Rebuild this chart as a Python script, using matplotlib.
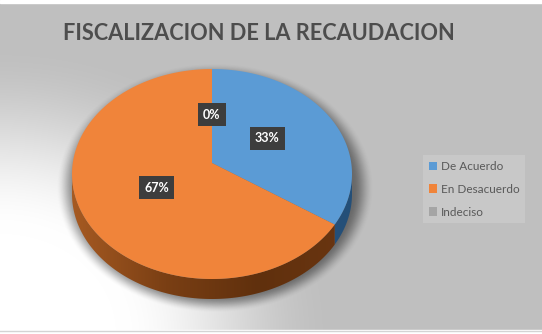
import numpy as np
import matplotlib.pyplot as plt
from matplotlib.patches import Polygon, Patch, Rectangle
from matplotlib.colors import LinearSegmentedColormap

plt.rcParams['font.family'] = ['Lato', 'DejaVu Sans']

title = 'FISCALIZACION DE LA RECAUDACION'
categories = ['De Acuerdo', 'En Desacuerdo', 'Indeciso']
values = [33, 67, 0]
top_colors = ['#5b9bd5', '#f0843a', '#a5a5a5']
side_colors = [['#2c5f8e', '#244f78'],
               ['#a65a22', '#7a3f14', '#60300d', '#6b3611'],
               ['#707070', '#5a5a5a']]

W, H = 542, 334
fig = plt.figure(figsize=(W / 100, H / 100), dpi=100)
fig.patch.set_facecolor('white')
ax = fig.add_axes([0, 0, 1, 1])
ax.axis('off')

# background: white in the lower left, grey elsewhere
yy, xx = np.mgrid[0:H, 0:W] + 0.5
r = np.hypot(xx * 0.95, (H - yy) * 1.1)
t = np.clip((r - 110) / 210, 0, 1)
t = t * t * (3 - 2 * t)
g = 1 - t * (1 - 0.75)
ax.imshow(np.dstack([g, g, g]), extent=(0, W, H, 0), aspect='auto', zorder=0)
ax.add_patch(Rectangle((0, 0), W, 3, color='white', zorder=1))
ax.add_patch(Rectangle((0, 330), W, 4, color='white', zorder=1))
ax.plot([0, W], [331, 331], color='#d4d4d4', lw=1, zorder=1)

# pie geometry (pixels)
cx, cy, rx, ry, depth = 212, 174, 140, 105, 20
vx, vy = 212, 163


def rim(theta, dy=0.0):
    th = np.radians(theta)
    return cx + rx * np.sin(th), cy - ry * np.cos(th) + dy


# soft shadow
d = np.hypot((xx - 215) / 150, (yy - 188) / 118)
s = np.clip((1.06 - d) / 0.14, 0, 1)
s = s * s * (3 - 2 * s)
shadow = np.zeros((H, W, 4))
shadow[..., 3] = 0.45 * s
ax.imshow(shadow, extent=(0, W, H, 0), aspect='auto', zorder=2)

total = sum(values)
bounds = np.cumsum([0] + values) / total * 360

# sides
for i, v in enumerate(values):
    a, b = max(bounds[i], 90), min(bounds[i + 1], 270)
    if b <= a:
        continue
    th = np.linspace(a, b, 200)
    tx, ty = rim(th)
    bx, by = rim(th[::-1], depth)
    poly = Polygon(np.column_stack([np.r_[tx, bx], np.r_[ty, by]]),
                   closed=True, fc='none', ec='none', zorder=3)
    ax.add_patch(poly)
    cmap = LinearSegmentedColormap.from_list('side%d' % i, side_colors[i])
    im = ax.imshow(np.linspace(0, 1, 256)[None, :], cmap=cmap, aspect='auto',
                   extent=(cx - rx, cx + rx, cy + ry + depth + 2, cy - 2), zorder=3)
    im.set_clip_path(poly)

# top faces
for i, v in enumerate(values):
    if v == 0:
        continue
    th = np.linspace(bounds[i], bounds[i + 1], 300)
    tx, ty = rim(th)
    pts = np.column_stack([np.r_[vx, tx], np.r_[vy, ty]])
    ax.add_patch(Polygon(pts, closed=True, fc=top_colors[i], ec='none', zorder=4))

# data labels
f = 0.46
for i, v in enumerate(values):
    mid = np.radians((bounds[i] + bounds[i + 1]) / 2)
    lx = vx + f * rx * np.sin(mid)
    ly = vy - f * ry * np.cos(mid)
    ax.text(lx, ly, '%d%%' % round(v / total * 100), color='white',
            fontsize=9, fontweight='bold', ha='center', va='center', zorder=6,
            bbox=dict(boxstyle='square,pad=0.42', fc='#3d3d3d', ec='none'))

ax.text(258.5, 33, title, fontsize=15.7, fontweight='bold', color='#4d4d4d',
        ha='center', va='center', zorder=6)

handles = [Patch(fc=c, ec='none') for c in top_colors]
leg = ax.legend(handles, categories, loc='upper left',
                bbox_to_anchor=(423 / W, 1 - 155 / H), borderaxespad=0,
                fontsize=8.5, labelcolor='#595959', frameon=True,
                facecolor='#c8c8c8', edgecolor='none', framealpha=1,
                handlelength=0.7, handleheight=0.7, handletextpad=0.3,
                labelspacing=1.0, borderpad=0.5, fancybox=False)
leg.set_zorder(7)

ax.set_xlim(0, W)
ax.set_ylim(H, 0)
fig.savefig('out.png', dpi=100)
